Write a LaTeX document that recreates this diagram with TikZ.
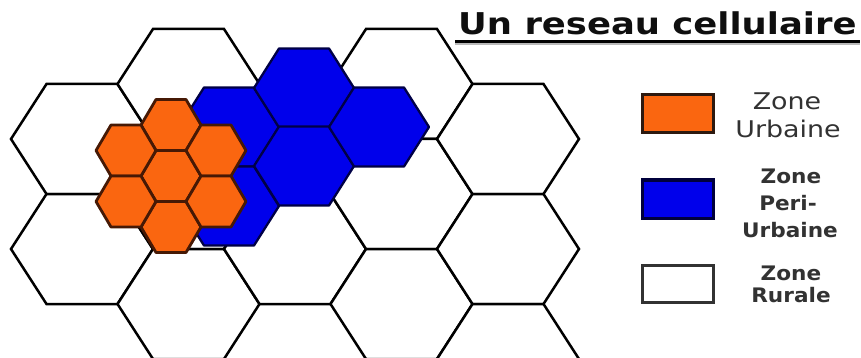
\documentclass[tikz,border=0pt]{standalone}
\usepackage{fontspec}
\setmainfont{DejaVu Sans}
\definecolor{orfill}{RGB}{250,102,16}
\definecolor{ordraw}{RGB}{70,25,5}
\definecolor{blfill}{RGB}{0,0,235}
\definecolor{bldraw}{RGB}{0,0,70}
\definecolor{legtext}{RGB}{50,50,50}
\tikzset{
  pics/hexcell/.style n args={2}{code={
    \path[pic actions] (-#1,0) -- (-#1/2,-#2) -- (#1/2,-#2) -- (#1,0) -- (#1/2,#2) -- (-#1/2,#2) -- cycle;}},
  rural/.style={draw=black, fill=white, line width=2.5pt, line join=miter},
  periurb/.style={draw=bldraw, fill=blfill, line width=2.3pt, line join=round},
  urb/.style={draw=ordraw, fill=orfill, line width=2.8pt, line join=round},
  legbox/.style={line width=3pt},
  legA/.style={anchor=base, text=legtext, font=\fontsize{23}{27}\selectfont, xscale=1.17, inner sep=0pt},
  legB/.style={anchor=base, text=legtext, font=\bfseries\fontsize{20}{24}\selectfont, xscale=1.08, inner sep=0pt},
}
\begin{document}
\begin{tikzpicture}[x=1pt, y=-1pt]
\path[use as bounding box, fill=white] (0,0) rectangle (861,358);
% rural (large) cells
\foreach \cx/\cy in {82/139, 82/249, 188.5/84, 188.5/194, 188.5/304, 295/139, 295/249,
                     401.5/84, 401.5/194, 401.5/304, 508/139, 508/249, 508/359}
  \pic[rural] at (\cx,\cy) {hexcell={71}{55}};
% peri-urban (medium) cells
\foreach \cx/\cy in {229/127, 229/206, 304/88, 304/166, 379/127}
  \pic[periurb] at (\cx,\cy) {hexcell={50}{39.5}};
% urban (small) cells
\foreach \cx/\cy in {171/125, 171/176, 171/227, 126/150.5, 126/201.5, 216/150.5, 216/201.5}
  \pic[urb] at (\cx,\cy) {hexcell={30}{25.5}};
% title
\node[anchor=base west, inner sep=0pt, font=\bfseries\fontsize{30}{34}\selectfont, xscale=1.18, text={rgb,255:red,15;green,15;blue,15}] (title) at (458,35) {Un reseau cellulaire};
\draw[line width=2pt, gray!55] ([xshift=-3pt,yshift=-9.5pt]title.base west) -- ([xshift=3pt,yshift=-9.5pt]title.base east);
\draw[line width=3pt, black] ([xshift=-3pt,yshift=-7pt]title.base west) -- ([xshift=3pt,yshift=-7pt]title.base east);
% legend
\node[legbox, draw={rgb,255:red,45;green,25;blue,15}, fill=orfill, minimum width=71pt, minimum height=38pt, inner sep=0pt] (boxU) at (677.5,114) {};
\node[legbox, draw={rgb,255:red,0;green,0;blue,60}, fill=blfill, minimum width=71pt, minimum height=38pt, inner sep=0pt] (boxP) at (677.5,199) {};
\node[legbox, draw={rgb,255:red,50;green,50;blue,50}, fill=white, minimum width=71pt, minimum height=37pt, inner sep=0pt] (boxR) at (677.5,283.5) {};
\node[legA] (u1) at (787,110) {Zone};
\node[legA] (u2) at (788,138) {Urbaine};
\node[legB] (p1) at (791,183) {Zone};
\node[legB] (p2) at (788,210) {Peri-};
\node[legB] (p3) at (790,237) {Urbaine};
\node[legB] (r1) at (791,280) {Zone};
\node[legB] (r2) at (791,302) {Rurale};
\end{tikzpicture}
\end{document}
